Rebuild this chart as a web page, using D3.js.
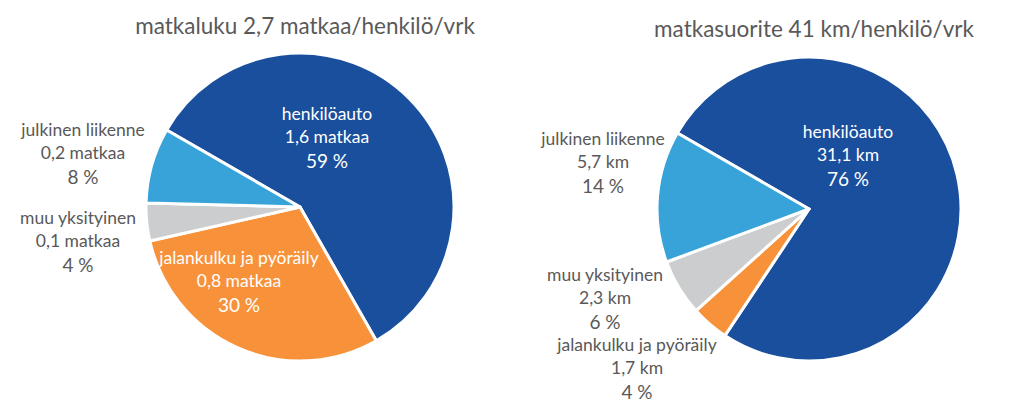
<!DOCTYPE html>
<html>
<head>
<meta charset="utf-8">
<script src="https://cdn.jsdelivr.net/npm/d3@7"></script>
<style>
  html, body { margin: 0; padding: 0; background: #fff; }
  svg { display: block; font-family: Lato, "Open Sans", sans-serif; }
</style>
</head>
<body>
<svg id="chart" width="1024" height="406"></svg>
<script>
// ---- data ----
const categories = ["henkilöauto", "jalankulku ja pyöräily", "muu yksityinen", "julkinen liikenne"];
const tripsValues = [1.6, 0.8, 0.1, 0.2];
const tripsShares = [59, 30, 4, 8];
const tripsValueLabels = ["1,6 matkaa", "0,8 matkaa", "0,1 matkaa", "0,2 matkaa"];
const kmValues = [31.1, 1.7, 2.3, 5.7];
const kmShares = [76, 4, 6, 14];
const kmValueLabels = ["31,1 km", "1,7 km", "2,3 km", "5,7 km"];
const titles = ["matkaluku 2,7 matkaa/henkilö/vrk", "matkasuorite 41 km/henkilö/vrk"];

// ---- layout / style ----
const colors = ["#1a4f9d", "#f8923a", "#cccdcf", "#38a3d9"];
const textGrey = "#595959";
const startDeg = -60;

const panels = [
  { cx: 300, cy: 207, r: 154, titleY: 25, shares: tripsShares, vals: tripsValueLabels, title: titles[0],
    labelOff: [[27, -71], [-61, 73], [-222, 33], [-217, -55]],
    labelFill: ["#fff", "#fff", textGrey, textGrey] },
  { cx: 809, cy: 209, r: 152, titleY: 28, shares: kmShares, vals: kmValueLabels, title: titles[1],
    labelOff: [[39, -55], [-172, 158], [-204, 88], [-206, -48]],
    labelFill: ["#fff", textGrey, textGrey, textGrey] }
];

const svg = d3.select("#chart");

panels.forEach(p => {
  const g = svg.append("g").attr("transform", `translate(${p.cx},${p.cy})`);
  const pie = d3.pie().sort(null)
    .startAngle(startDeg * Math.PI / 180)
    .endAngle((startDeg + 360) * Math.PI / 180);
  const arcs = pie(p.shares);
  const arc = d3.arc().innerRadius(0).outerRadius(p.r);

  g.selectAll("path.slice").data(arcs).enter().append("path")
    .attr("class", "slice")
    .attr("d", arc)
    .attr("fill", (d, i) => colors[i])
    .attr("stroke", "#fff")
    .attr("stroke-width", 3)
    .attr("stroke-linejoin", "round");

  svg.append("text")
    .attr("x", p.cx + 5)
    .attr("y", p.titleY)
    .attr("text-anchor", "middle")
    .attr("dominant-baseline", "central")
    .attr("fill", textGrey)
    .attr("font-size", 22.5)
    .text(p.title);

  categories.forEach((c, i) => {
    const [dx, dy] = p.labelOff[i];
    const t = g.append("g").attr("transform", `translate(${dx},${dy})`)
      .attr("fill", p.labelFill[i]).attr("text-anchor", "middle");
    t.append("text").attr("y", -23).attr("dominant-baseline", "central")
      .attr("font-size", 17.5).text(c);
    t.append("text").attr("y", 0).attr("dominant-baseline", "central")
      .attr("font-size", 17.5).text(p.vals[i]);
    t.append("text").attr("y", 24).attr("dominant-baseline", "central")
      .attr("font-size", 19).text(p.shares[i] + " %");
  });
});
</script>
</body>
</html>
